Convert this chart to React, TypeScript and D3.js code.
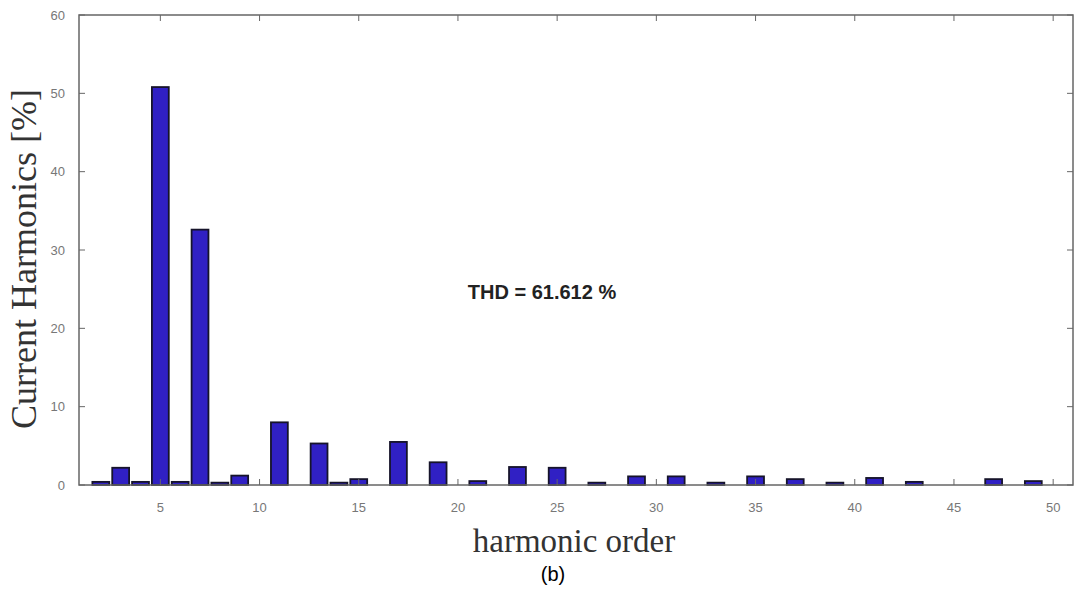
import React from "react";
import * as d3 from "d3";

const orders = [2,3,4,5,6,7,8,9,10,11,12,13,14,15,16,17,18,19,20,21,22,23,24,25,26,27,28,29,30,31,32,33,34,35,36,37,38,39,40,41,42,43,44,45,46,47,48,49,50];
const values = [0.4,2.2,0.4,50.8,0.4,32.6,0.3,1.2,0,8.0,0,5.3,0.3,0.75,0,5.5,0,2.9,0,0.5,0,2.3,0,2.2,0,0.3,0,1.1,0,1.1,0,0.3,0,1.1,0,0.75,0,0.3,0,0.9,0,0.4,0,0,0,0.75,0,0.5,0];
const xTicks = [5,10,15,20,25,30,35,40,45,50];
const yTicks = [0,10,20,30,40,50,60];

const W = 1078, H = 591;
const L = 79, R = 1073, T = 15, B = 485;

export default function App() {
  const x = d3.scaleLinear().domain([0.9, 51]).range([L, R]);
  const y = d3.scaleLinear().domain([0, 60]).range([B, T]);
  const bw = (x(1) - x(0)) * 0.85;
  const axisColor = "#666";
  const tickColor = "#777";
  return (
    <svg width={W} height={H} style={{ position: "absolute", left: 0, top: 0, background: "#fff" }}>
      <rect x={0} y={0} width={W} height={H} fill="#fff" />
      {orders.map((o, i) => {
        const v = values[i];
        const h = Math.max(y(0) - y(v), 0);
        return (
          <rect key={o} x={x(o) - bw / 2} y={y(v)} width={bw} height={h}
            fill="#3020c4" stroke="#16142a" strokeWidth={1.8} />
        );
      })}
      <rect x={L} y={T} width={R - L} height={B - T} fill="none" stroke={axisColor} strokeWidth={1.5} />
      {xTicks.map(t => (
        <g key={"x" + t}>
          <line x1={x(t)} x2={x(t)} y1={B} y2={B - 6} stroke={axisColor} strokeWidth={1} />
          <line x1={x(t)} x2={x(t)} y1={T} y2={T + 6} stroke={axisColor} strokeWidth={1} />
          <text x={x(t)} y={512} textAnchor="middle" fontFamily="Liberation Sans, Arial" fontSize={13} fill={tickColor}>{t}</text>
        </g>
      ))}
      {yTicks.map(t => (
        <g key={"y" + t}>
          <line x1={L} x2={L + 6} y1={y(t)} y2={y(t)} stroke={axisColor} strokeWidth={1} />
          <line x1={R} x2={R - 6} y1={y(t)} y2={y(t)} stroke={axisColor} strokeWidth={1} />
          <text x={65} y={y(t) + 4.5} textAnchor="end" fontFamily="Liberation Sans, Arial" fontSize={13} fill={tickColor}>{t}</text>
        </g>
      ))}
      <text x={542} y={299} textAnchor="middle" fontFamily="Liberation Sans, Arial" fontWeight="bold" fontSize={20} fill="#222">THD = 61.612 %</text>
      <text x={574} y={552} textAnchor="middle" fontFamily="Liberation Serif, Times New Roman" fontSize={33} fill="#333">harmonic order</text>
      <text transform={`translate(36,${(88 + 430) / 2}) rotate(-90)`} textAnchor="middle" fontFamily="Liberation Serif, Times New Roman" fontSize={36} fill="#333">Current Harmonics [%]</text>
      <text x={553} y={581} textAnchor="middle" fontFamily="Liberation Sans, Arial" fontSize={20} fill="#000">(b)</text>
    </svg>
  );
}
